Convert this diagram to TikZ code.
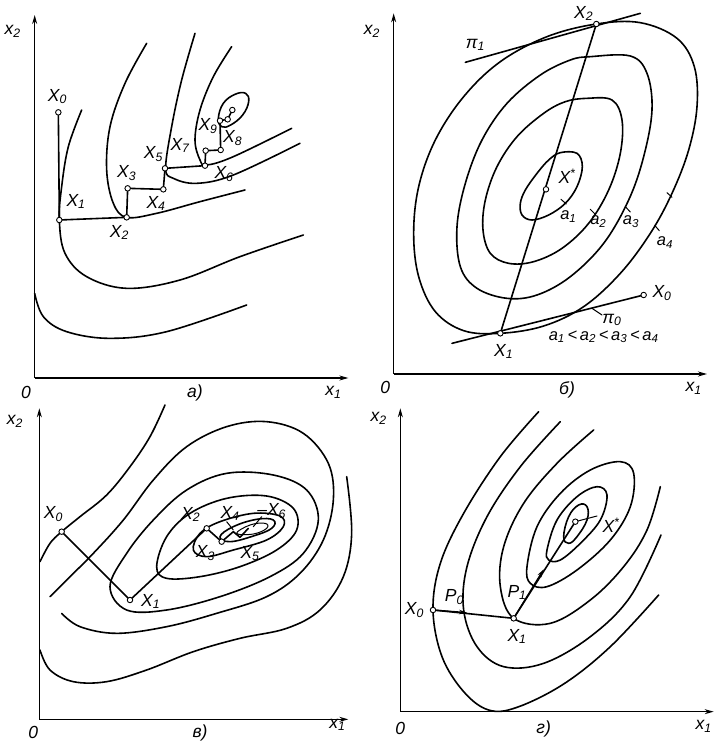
\documentclass[tikz,border=0pt]{standalone}
\usepackage{fontspec}
\setmainfont{Liberation Sans}
\usetikzlibrary{arrows.meta}
\begin{document}
\begin{tikzpicture}[x=1pt,y=-1pt]
\tikzset{
  curve/.style={line width=1.6pt, line join=round, line cap=round},
  thin curve/.style={line width=1pt, line join=round, line cap=round},
  axis/.style={line width=1.2pt, -{Stealth[length=9pt,width=5pt]}},
  ptc/.style={circle, draw, fill=white, inner sep=0pt, minimum size=5.5pt, line width=0.9pt},
  lab/.style={font=\fontsize{17.5}{17.5}\selectfont\itshape, inner sep=1pt},
  alab/.style={font=\fontsize{16.5}{16.5}\selectfont\itshape, inner sep=1pt},
  arrowline/.style={line width=1.4pt, -{Stealth[length=8pt,width=4.5pt]}},
}
\useasboundingbox (0,0) rectangle (714,747);

%================ Panel a =================
\begin{scope}[x=0.33333pt,y=-0.33333pt]
  \coordinate (aO) at (104,1134);
  \coordinate (aY) at (104,45);
  \coordinate (aX) at (1045,1134);
  \draw[axis] (aO) -- (aY);
  \draw[axis] (aO) -- (aX);
  \node[lab] (a-x2) at (38,95) {x\textsubscript{2}};
  \node[lab] (a-0) at (78,1178) {0};
  \node[lab] (a-cap) at (585,1180) {а)};
  \node[lab] (a-x1) at (1000,1178) {x\textsubscript{1}};
  % level curves
  \draw[curve] plot[smooth, tension=0.6] coordinates {(104,880) (130,950) (200,995) (330,1015) (500,995) (740,915)};
  \draw[curve] plot[smooth, tension=0.6] coordinates {(245,330) (205,440) (185,560) (178,660) (195,760) (260,830) (380,865) (540,840) (720,770) (910,705)};
  \draw[curve] plot[smooth, tension=0.6] coordinates {(440,130) (375,250) (330,380) (320,510) (340,610) (380,652) (470,640) (600,605) (735,570)};
  \draw[curve] plot[smooth, tension=0.6] coordinates {(585,100) (545,240) (515,380) (497,505) (520,535) (590,550) (700,525) (900,430)};
  \draw[curve] plot[smooth, tension=0.6] coordinates {(695,140) (640,230) (600,330) (585,420) (600,480) (620,495) (700,470) (875,385)};
  \draw[curve] plot[smooth cycle, tension=0.7] coordinates {(655,355) (670,310) (705,283) (737,280) (746,305) (728,345) (692,375) (665,380)};
  % descent path
  \coordinate (a0) at (175,337);
  \coordinate (a1) at (178,660);
  \coordinate (a2) at (380,652);
  \coordinate (a3) at (383,565);
  \coordinate (a4) at (490,568);
  \coordinate (a5) at (495,505);
  \coordinate (a6) at (615,497);
  \coordinate (a7) at (617,452);
  \coordinate (a8) at (662,450);
  \coordinate (a9) at (660,362);
  \coordinate (a10) at (683,358);
  \coordinate (a11) at (697,330);
  \draw[curve] (a0) -- (a1) -- (a2) -- (a3) -- (a4) -- (a5) -- (a6) -- (a7) -- (a8) -- (a9) -- (a10) -- (a11);
  \foreach \p in {a0,a1,a2,a3,a4,a5,a6,a7,a8,a9,a10,a11} \node[ptc] (\p c) at (\p) {};
  \node[lab] (a-l0) at (172,290) {X\textsubscript{0}};
  \node[lab] (a-l1) at (228,605) {X\textsubscript{1}};
  \node[lab] (a-l2) at (358,697) {X\textsubscript{2}};
  \node[lab] (a-l3) at (380,520) {X\textsubscript{3}};
  \node[lab] (a-l4) at (468,610) {X\textsubscript{4}};
  \node[lab] (a-l5) at (460,462) {X\textsubscript{5}};
  \node[lab] (a-l7) at (540,437) {X\textsubscript{7}};
  \node[lab] (a-l6) at (672,522) {X\textsubscript{6}};
  \node[lab] (a-l9) at (624,378) {X\textsubscript{9}};
  \node[lab] (a-l8) at (698,414) {X\textsubscript{8}};
\end{scope}

%================ Panel b =================
\begin{scope}[shift={(357pt,0pt)},x=0.33333pt,y=-0.33333pt]
  \coordinate (bO) at (110,1122);
  \coordinate (bY) at (110,40);
  \coordinate (bX) at (1050,1122);
  \draw[axis] (bO) -- (bY);
  \draw[axis] (bO) -- (bX);
  \node[lab] (b-x2) at (45,95) {x\textsubscript{2}};
  \node[lab] (b-0) at (85,1162) {0};
  \node[lab] (b-cap) at (630,1170) {б)};
  \node[lab] (b-x1) at (1010,1165) {x\textsubscript{1}};
  % contours
  \draw[curve] plot[smooth cycle, tension=0.6] coordinates {(718,72) (850,68) (960,115) (1012,200) (1020,320) (995,450) (945,580) (880,700) (790,820) (680,920) (560,978) (430,1000) (320,992) (235,935) (185,830) (170,700) (185,560) (235,420) (320,290) (430,185) (570,110)};
  \draw[curve] plot[smooth cycle, tension=0.6] coordinates {(700,170) (820,168) (870,220) (885,330) (860,470) (815,600) (740,730) (640,830) (540,885) (450,895) (360,865) (310,800) (300,680) (325,550) (375,420) (450,310) (550,225) (640,180)};
  \draw[curve] plot[smooth cycle, tension=0.6] coordinates {(690,295) (765,300) (795,360) (790,460) (755,570) (695,670) (615,745) (530,785) (455,790) (400,760) (378,690) (385,600) (420,500) (480,410) (560,340) (625,305)};
  \draw[curve] plot[smooth cycle, tension=0.6] coordinates {(610,458) (660,460) (676,500) (660,560) (625,610) (575,645) (525,660) (495,645) (490,610) (505,570) (540,520) (575,480)};
  % points and lines
  \coordinate (b1) at (430,1000);
  \coordinate (b2) at (718,72);
  \coordinate (bs) at (567,568);
  \coordinate (b0) at (860,885);
  \coordinate (bpi1a) at (325,187);
  \coordinate (bpi1b) at (850,40);
  \coordinate (bpi0a) at (285,1030);
  \draw[curve] (b1) -- (b2);
  \draw[curve] (bpi1a) -- (bpi1b);
  \draw[curve] (bpi0a) -- (b0);
  \foreach \p in {b1,b2,bs,b0} \node[ptc] (\p c) at (\p) {};
  % leader ticks
  \draw[thin curve] (612,598) -- (628,612);
  \draw[thin curve] (700,628) -- (714,642);
  \draw[thin curve] (805,620) -- (820,636);
  \draw[thin curve] (893,676) -- (907,692);
  \draw[thin curve] (930,578) -- (945,592);
  \draw[thin curve] (705,925) -- (735,945);
  \node[lab] (b-pi1) at (355,135) {π\textsubscript{1}};
  \node[lab] (b-l2) at (680,40) {X\textsubscript{2}};
  \node[lab] (b-ls) at (630,528) {X\textsuperscript{*}};
  \node[alab] (b-a1) at (634,650) {a\textsubscript{1}};
  \node[alab] (b-a2) at (724,664) {a\textsubscript{2}};
  \node[alab] (b-a3) at (822,664) {a\textsubscript{3}};
  \node[alab] (b-a4) at (924,728) {a\textsubscript{4}};
  \node[lab] (b-l0) at (915,880) {X\textsubscript{0}};
  \node[lab] (b-pi0) at (765,960) {π\textsubscript{0}};
  \node[alab] (b-rel) at (740,1010) {a\textsubscript{1}\,<\,a\textsubscript{2}\,<\,a\textsubscript{3}\,<\,a\textsubscript{4}};
  \node[lab] (b-l1) at (440,1054) {X\textsubscript{1}};
\end{scope}

%================ Panel c =================
\begin{scope}[shift={(0pt,-380pt)},x=0.33333pt,y=-0.33333pt]
  \coordinate (cO) at (118,1018);
  \coordinate (cY) at (118,85);
  \coordinate (cX) at (1045,1018);
  \draw[axis] (cO) -- (cY);
  \draw[axis] (cO) -- (cX);
  \node[lab] (c-x2) at (45,125) {x\textsubscript{2}};
  \node[lab] (c-0) at (100,1058) {0};
  \node[lab] (c-cap) at (600,1058) {в)};
  \node[lab] (c-x1) at (1012,1035) {x\textsubscript{1}};
  % contours
  \draw[curve] plot[smooth, tension=0.6] coordinates {(120,545) (150,490) (185,455) (240,410) (320,345) (390,260) (450,170) (495,75)};
  \draw[curve] plot[smooth, tension=0.6] coordinates {(120,810) (150,870) (220,905) (320,905) (440,870) (580,815) (720,775) (860,745) (960,690) (1030,590) (1055,460) (1040,290)};
  \draw[curve] plot[smooth, tension=0.6] coordinates {(150,650) (200,600) (280,520) (370,420) (460,300) (560,200) (680,140) (800,125) (910,160) (985,250) (1000,360) (970,480) (900,580) (800,650) (650,700) (500,740) (350,760) (240,740) (185,700)};
  \draw[curve] plot[smooth cycle, tension=0.6] coordinates {(330,620) (380,520) (460,420) (560,330) (680,280) (820,285) (920,330) (955,420) (910,520) (810,590) (660,650) (500,690) (380,690)};
  \draw[curve] plot[smooth cycle, tension=0.6] coordinates {(470,560) (500,470) (570,400) (680,355) (800,348) (880,385) (890,450) (830,510) (720,560) (600,590) (500,595)};
  \draw[curve] plot[smooth cycle, tension=0.6] coordinates {(580,510) (600,460) (660,425) (760,400) (840,408) (850,440) (800,480) (700,510) (620,530)};
  \draw[curve] plot[smooth cycle, tension=0.7] coordinates {(660,470) (700,440) (770,418) (820,420) (815,445) (760,468) (690,485)};
  \draw[thin curve] plot[smooth cycle, tension=0.7] coordinates {(710,460) (750,435) (795,430) (800,445) (760,462)};
  % steepest descent
  \coordinate (c0) at (185,455);
  \coordinate (c1) at (390,660);
  \coordinate (c2) at (620,445);
  \coordinate (c3) at (665,485);
  \coordinate (c4) at (700,455);
  \coordinate (c5) at (720,472);
  \coordinate (c6) at (745,445);
  \draw[curve] (c0) -- (c1) -- (c2) -- (c3) -- (c4) -- (c5) -- (c6);
  \foreach \p in {c0,c1,c2,c3} \node[ptc] (\p c) at (\p) {};
  \draw[thin curve] (680,425) -- (700,450);
  \draw[thin curve] (785,410) -- (760,440);
  \node[lab] (c-l0) at (160,402) {X\textsubscript{0}};
  \node[lab] (c-l1) at (452,664) {X\textsubscript{1}};
  \node[lab] (c-l2) at (572,403) {X\textsubscript{2}};
  \node[lab] (c-l3) at (616,520) {X\textsubscript{3}};
  \node[lab] (c-l4) at (690,400) {X\textsubscript{4}};
  \node[lab] (c-l5) at (750,520) {X\textsubscript{5}};
  \node[lab] (c-l6) at (815,393) {–X\textsubscript{6}};
\end{scope}

%================ Panel g =================
\begin{scope}[shift={(357pt,-380pt)},x=0.33333pt,y=-0.33333pt]
  \coordinate (gO) at (130,995);
  \coordinate (gY) at (130,85);
  \coordinate (gX) at (1070,995);
  \draw[axis] (gO) -- (gY);
  \draw[axis] (gO) -- (gX);
  \node[lab] (g-x2) at (65,115) {x\textsubscript{2}};
  \node[lab] (g-0) at (130,1045) {0};
  \node[lab] (g-cap) at (560,1048) {г)};
  \node[lab] (g-x1) at (1040,1040) {x\textsubscript{1}};
  % contours
  \draw[curve] plot[smooth, tension=0.6] coordinates {(545,95) (430,230) (320,400) (250,550) (228,690) (255,830) (320,935) (395,990) (480,982) (620,912) (760,800) (905,645)};
  \draw[curve] plot[smooth, tension=0.6] coordinates {(610,125) (490,260) (390,410) (330,560) (320,690) (360,800) (440,860) (560,850) (700,770) (820,650) (912,465)};
  \draw[curve] plot[smooth, tension=0.6] coordinates {(710,150) (600,250) (500,370) (440,500) (430,620) (470,715) (580,730) (700,660) (800,560) (870,450) (910,320)};
  \draw[curve] plot[smooth cycle, tension=0.6] coordinates {(510,560) (540,440) (610,340) (700,270) (790,245) (830,280) (820,380) (760,480) (660,570) (570,620) (520,610)};
  \draw[curve] plot[smooth cycle, tension=0.6] coordinates {(570,510) (600,420) (660,350) (720,320) (750,345) (730,420) (670,490) (610,540) (575,540)};
  \draw[curve] plot[smooth cycle, tension=0.7] coordinates {(620,470) (635,410) (665,375) (690,380) (690,420) (660,470) (635,490)};
  % conjugate gradient
  \coordinate (g0) at (228,690);
  \coordinate (g1) at (470,715);
  \coordinate (gs) at (655,425);
  \coordinate (gP0) at (330,698);
  \coordinate (gP1) at (560,568);
  \coordinate (gsl) at (720,408);
  \draw[curve] (g0) -- (g1) -- (gs);
  \draw[arrowline] (g0) -- (gP0);
  \draw[arrowline] (g1) -- (gP1);
  \draw[thin curve] (gs) -- (gsl);
  \foreach \p in {g0,g1,gs} \node[ptc] (\p c) at (\p) {};
  \node[lab] (g-p0) at (292,652) {P\textsubscript{0}};
  \node[lab] (g-l0) at (172,690) {X\textsubscript{0}};
  \node[lab] (g-l1) at (480,770) {X\textsubscript{1}};
  \node[lab] (g-p1) at (480,638) {P\textsubscript{1}};
  \node[lab] (g-ls) at (762,435) {X\textsuperscript{*}};
\end{scope}
\end{tikzpicture}
\end{document}
